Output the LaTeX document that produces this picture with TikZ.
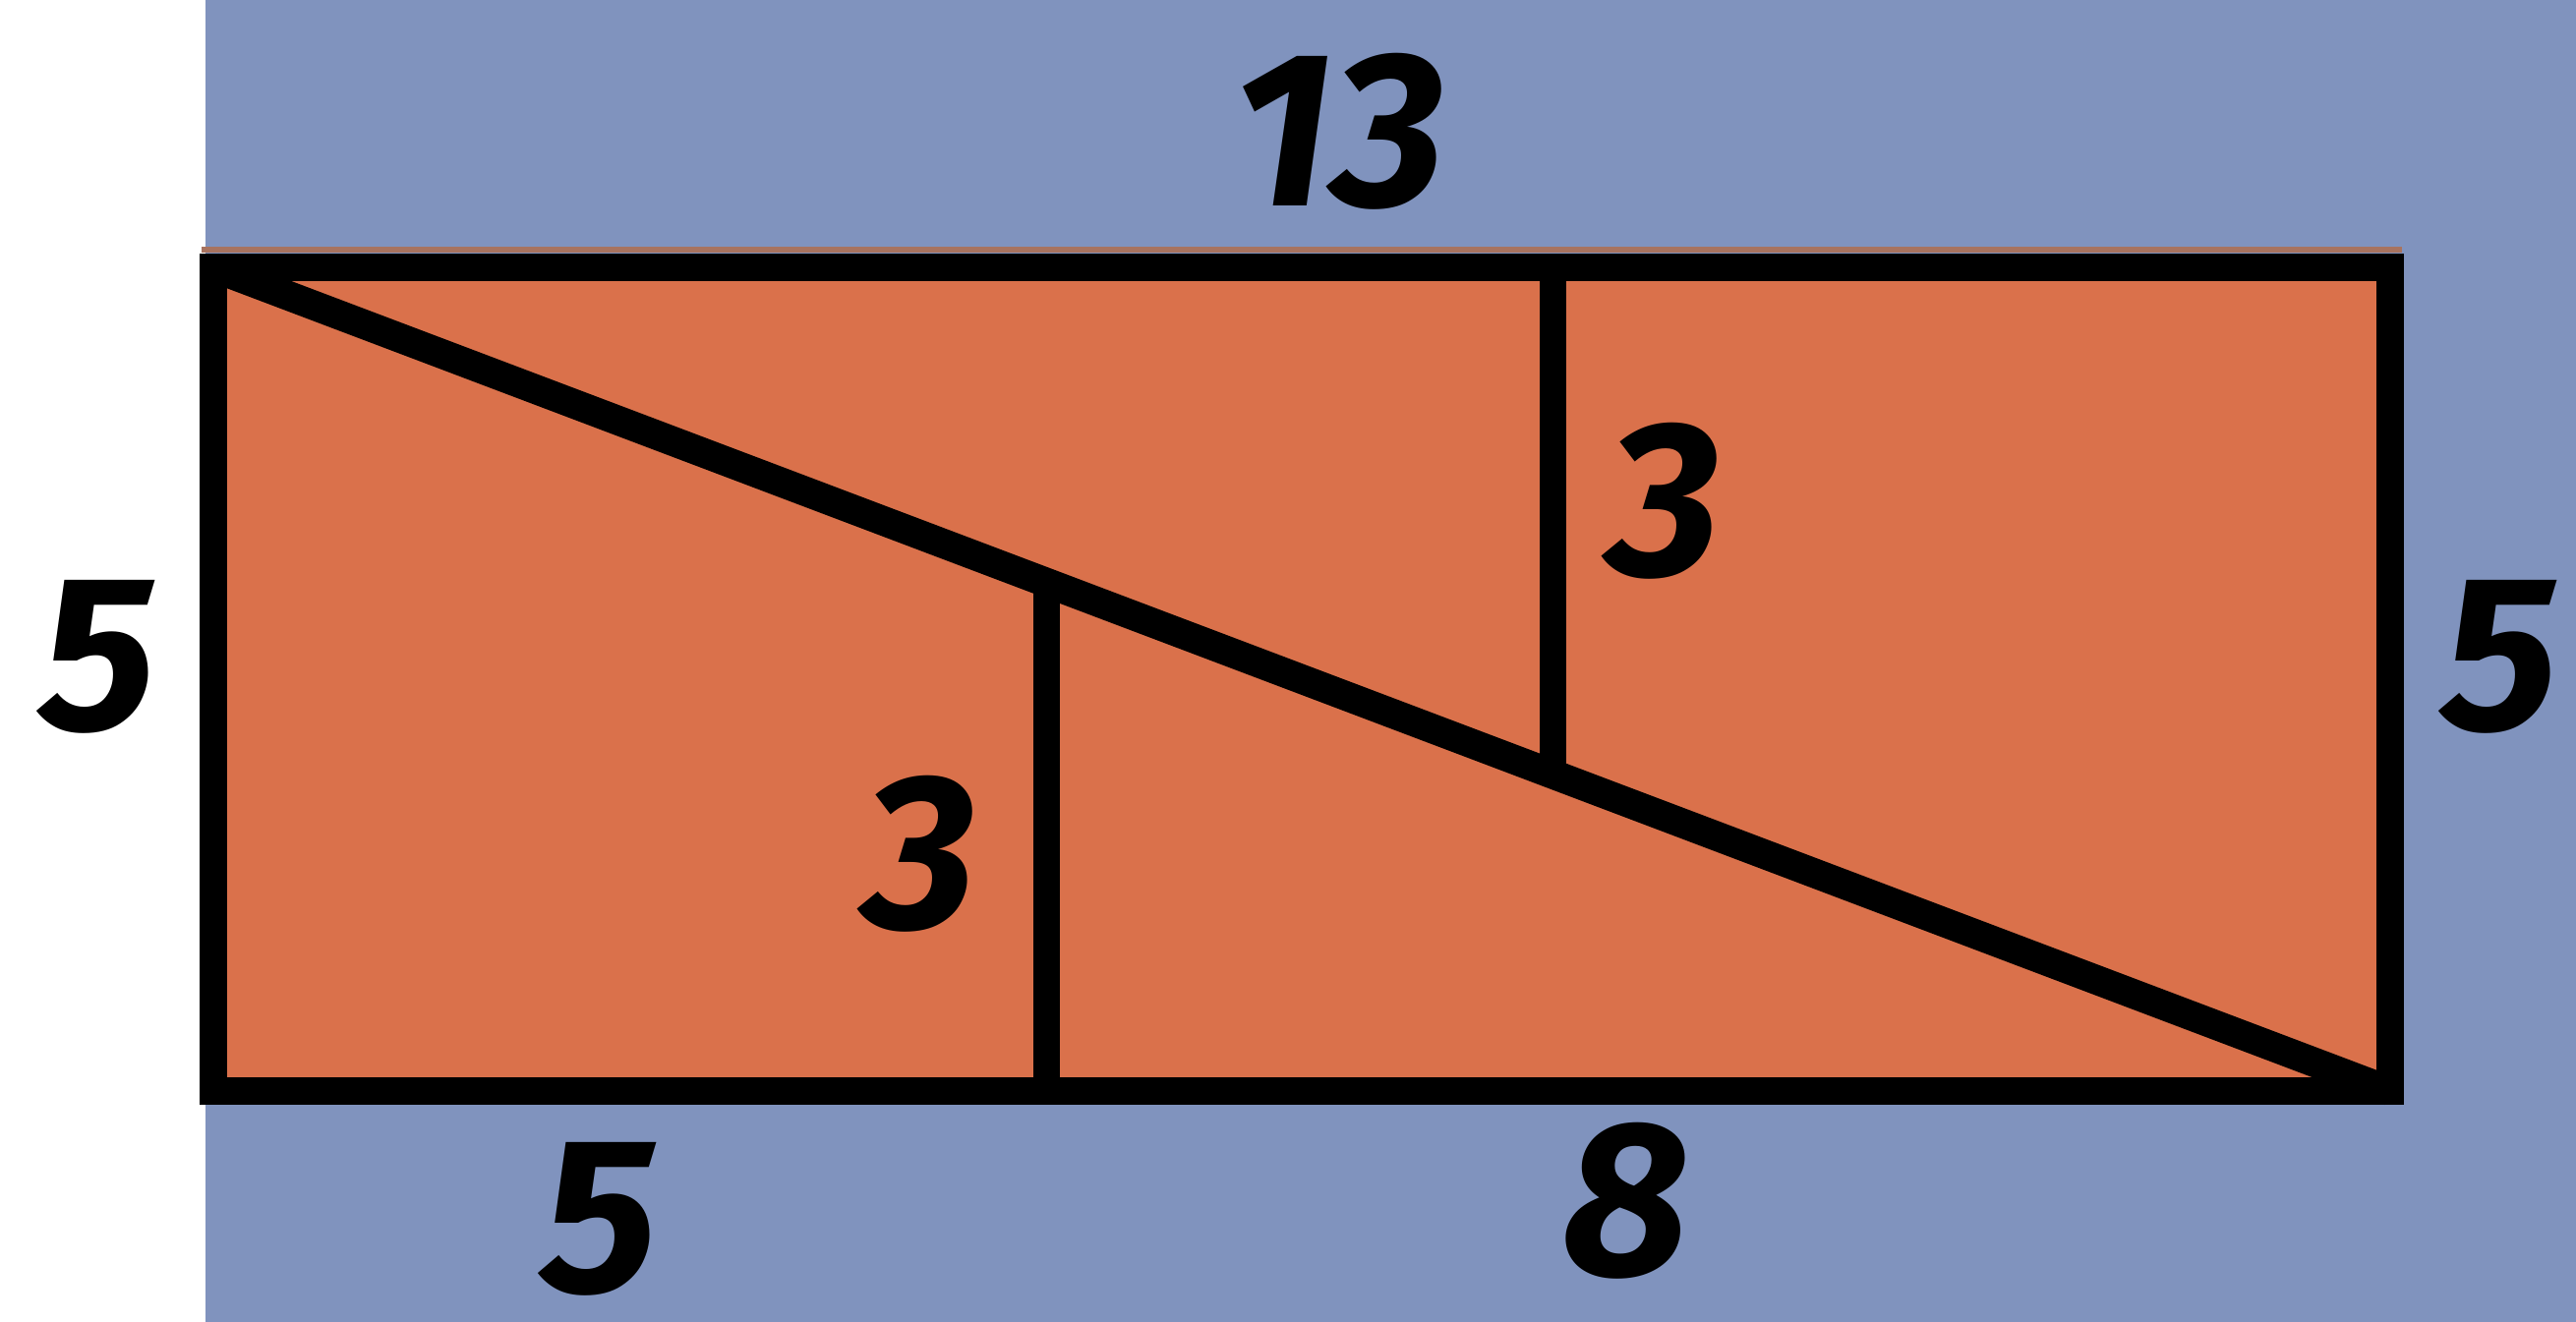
\documentclass[tikz,border=0pt]{standalone}
\usepackage{fontspec}
\setmainfont{Fira Sans}
\definecolor{bgblue}{HTML}{8093BE}
\definecolor{boxorange}{HTML}{DA714B}
\definecolor{edgebrown}{HTML}{A8735F}
\tikzset{
  edge/.style={line width=0.28cm, line cap=rect, line join=miter, draw=black},
  inner/.style={line width=0.27cm, draw=black},
  diag/.style={line width=0.30cm, draw=black},
  num/.style={font=\fontsize{64}{64}\selectfont\bfseries\itshape, text=black, inner sep=0pt}
}
\begin{document}
\begin{tikzpicture}[x=0.01cm, y=-0.01cm]
\useasboundingbox (0,0) rectangle (2620,1345);
\fill[white] (0,0) rectangle (2620,1345);
\fill[bgblue] (209,0) rectangle (2620,1345);
% corners
\coordinate (A) at (217,272);
\coordinate (B) at (2431,272);
\coordinate (C) at (2431,1110);
\coordinate (D) at (217,1110);
\coordinate (E) at (1064,1110);
\coordinate (Et) at (1064,593);
\coordinate (F) at (1579,272);
\coordinate (Fb) at (1579,787);
\fill[boxorange] (A) rectangle (C);
\draw[edgebrown, line width=0.06cm] (205,254) -- (2443,254);
\draw[diag] (A) -- (C);
\draw[inner] (E) -- (Et);
\draw[inner] (F) -- (Fb);
\draw[edge] (A) -- (B) -- (C) -- (D) -- cycle;
% labels
\node[num] (l13) at (1362,134) {13};
\node[num] (l5l) at (100,668) {5};
\node[num] (l5r) at (2543,668) {5};
\node[num] (l3u) at (1693,510) {3};
\node[num] (l3d) at (936,869) {3};
\node[num] (l5b) at (610,1240) {5};
\node[num] (l8) at (1654,1222) {8};
\end{tikzpicture}
\end{document}
